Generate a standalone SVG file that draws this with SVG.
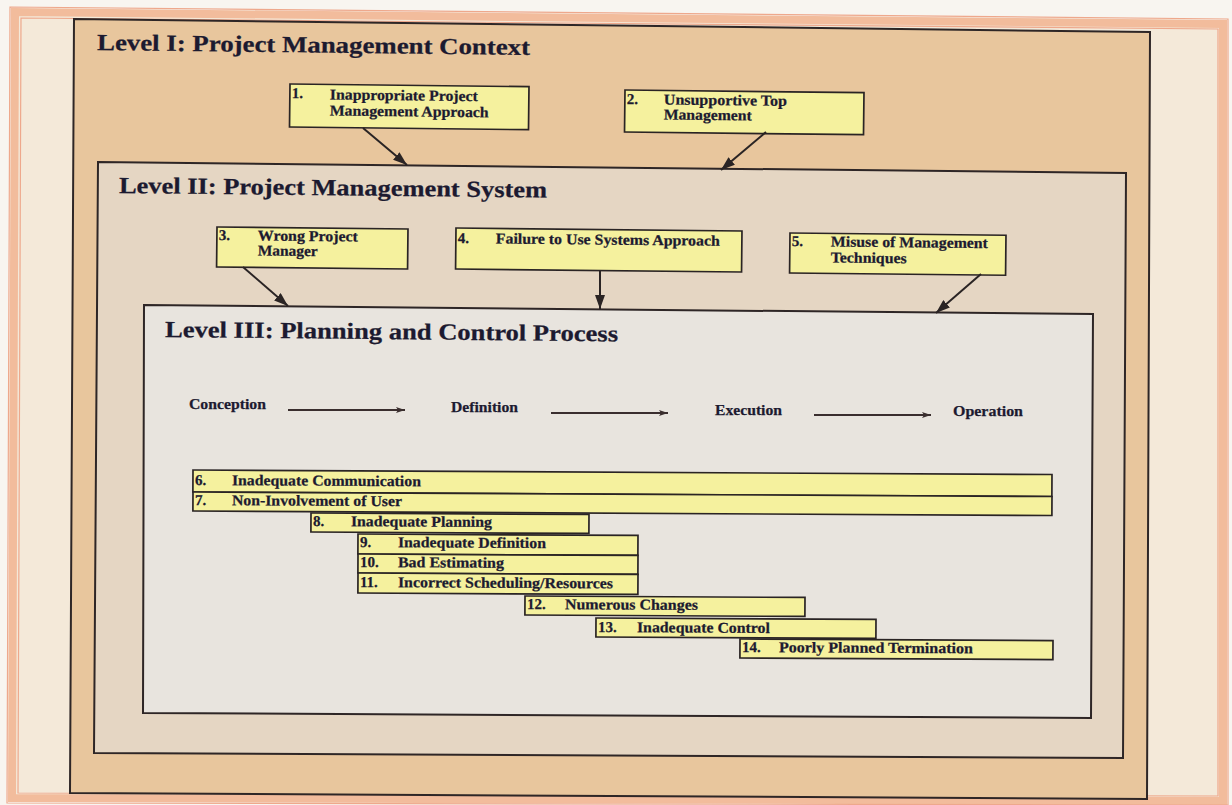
<svg xmlns="http://www.w3.org/2000/svg" width="1232" height="805" viewBox="0 0 1232 805">
<style>
.t{font-family:"Liberation Serif","Times New Roman",serif;font-weight:bold;fill:#1c1a30;stroke:#1c1a30;stroke-width:0.25}
.title{font-size:23px}
.lbl{font-size:15px}
.box{fill:#f5f19e;stroke:#2a2424;stroke-width:1.7}
.frame{stroke:#2e2626;stroke-width:2;stroke-linejoin:miter}
.conn{stroke:#2a2424;stroke-width:2;fill:none}
.pconn{stroke:#3a2e2e;stroke-width:1.8;fill:none}
</style>
<defs>
<marker id="head" viewBox="0 0 14 10" refX="14" refY="5" markerWidth="14" markerHeight="10" markerUnits="userSpaceOnUse" orient="auto">
<path d="M0,0 L14,5 L0,10 z" fill="#2a2424"/>
</marker>
<marker id="small" viewBox="0 0 9 6" refX="9" refY="3" markerWidth="9" markerHeight="6" markerUnits="userSpaceOnUse" orient="auto">
<path d="M0,0 L9,3 L0,6 L2,3 z" fill="#3a2e2e"/>
</marker>
</defs>
<rect x="0" y="0" width="1232" height="805" fill="#f8f5f0"/>
<g id="page">
<polygon points="15,12 1223,24 1223,801 12,798" fill="#f4e9d9" stroke="#f2bc9c" stroke-width="8"/>
<polygon points="10,7 1228,19 1228,805 7,803" fill="none" stroke="#eea88c" stroke-width="1.2"/>
<polygon points="21,18 1218,29 1218,796 18,793" fill="none" stroke="#eea88c" stroke-width="1.2"/>
</g>
<g id="level1">
<polygon class="frame" points="74,19 1150,32 1147,799 70,793" fill="#e8c69d"/>
<text class="t title" x="97" y="50" textLength="433" lengthAdjust="spacingAndGlyphs" transform="rotate(0.65 97 50)">Level I:  Project Management Context</text>
</g>
<g id="level2">
<polygon class="frame" points="98,162 1126,173 1123,758 94,753" fill="#e5d6c3"/>
<text class="t title" x="119" y="193" textLength="428" lengthAdjust="spacingAndGlyphs" transform="rotate(0.6 119 193)">Level II: Project Management System</text>
</g>
<g id="level3">
<polygon class="frame" points="144,305 1093,314 1091,718 143,713" fill="#e8e4de"/>
<text class="t title" x="165" y="337" textLength="453" lengthAdjust="spacingAndGlyphs" transform="rotate(0.55 165 337)">Level III: Planning and Control Process</text>
</g>
<g id="node1" transform="rotate(0.65 290 84)">
<rect class="box" x="290" y="84" width="239" height="43"/>
<text class="t lbl" x="292" y="98">1.</text>
<text class="t lbl" x="330" y="99" textLength="148" lengthAdjust="spacingAndGlyphs">Inappropriate Project</text>
<text class="t lbl" x="330" y="115" textLength="159" lengthAdjust="spacingAndGlyphs">Management Approach</text>
</g>
<g id="node2" transform="rotate(0.65 625 90)">
<rect class="box" x="625" y="90" width="239" height="42"/>
<text class="t lbl" x="627" y="104">2.</text>
<text class="t lbl" x="664" y="104" textLength="123" lengthAdjust="spacingAndGlyphs">Unsupportive Top</text>
<text class="t lbl" x="664" y="119" textLength="88" lengthAdjust="spacingAndGlyphs">Management</text>
</g>
<g id="node3" transform="rotate(0.6 217 227)">
<rect class="box" x="217" y="227" width="191" height="40"/>
<text class="t lbl" x="219" y="240">3.</text>
<text class="t lbl" x="258" y="240" textLength="100" lengthAdjust="spacingAndGlyphs">Wrong Project</text>
<text class="t lbl" x="258" y="255" textLength="60" lengthAdjust="spacingAndGlyphs">Manager</text>
</g>
<g id="node4" transform="rotate(0.6 456 228)">
<rect class="box" x="456" y="228" width="286" height="41"/>
<text class="t lbl" x="458" y="243">4.</text>
<text class="t lbl" x="496" y="243" textLength="224" lengthAdjust="spacingAndGlyphs">Failure to Use Systems Approach</text>
</g>
<g id="node5" transform="rotate(0.6 790 233)">
<rect class="box" x="790" y="233" width="216" height="40"/>
<text class="t lbl" x="792" y="246">5.</text>
<text class="t lbl" x="831" y="246" textLength="157" lengthAdjust="spacingAndGlyphs">Misuse of Management</text>
<text class="t lbl" x="831" y="262" textLength="76" lengthAdjust="spacingAndGlyphs">Techniques</text>
</g>
<g id="phases">
<text class="t lbl" x="189" y="409" textLength="77" lengthAdjust="spacingAndGlyphs">Conception</text>
<text class="t lbl" x="451" y="412" textLength="67" lengthAdjust="spacingAndGlyphs">Definition</text>
<text class="t lbl" x="715" y="415" textLength="67" lengthAdjust="spacingAndGlyphs">Execution</text>
<text class="t lbl" x="953" y="416" textLength="70" lengthAdjust="spacingAndGlyphs">Operation</text>
</g>
<g id="node6" transform="rotate(0.3 193 470)">
<rect class="box" x="193" y="470" width="859" height="22"/>
<text class="t lbl" x="195" y="485">6.</text>
<text class="t lbl" x="232" y="485" textLength="189" lengthAdjust="spacingAndGlyphs">Inadequate Communication</text>
</g>
<g id="node7" transform="rotate(0.3 193 492)">
<rect class="box" x="193" y="492" width="859" height="19"/>
<text class="t lbl" x="195" y="505">7.</text>
<text class="t lbl" x="232" y="505" textLength="170" lengthAdjust="spacingAndGlyphs">Non-Involvement of User</text>
</g>
<g id="node8" transform="rotate(0.3 311 513)">
<rect class="box" x="311" y="513" width="278" height="19"/>
<text class="t lbl" x="313" y="526">8.</text>
<text class="t lbl" x="351" y="526" textLength="141" lengthAdjust="spacingAndGlyphs">Inadequate Planning</text>
</g>
<g id="node9" transform="rotate(0.3 358 534)">
<rect class="box" x="358" y="534" width="280" height="20"/>
<text class="t lbl" x="360" y="547">9.</text>
<text class="t lbl" x="398" y="547" textLength="148" lengthAdjust="spacingAndGlyphs">Inadequate Definition</text>
</g>
<g id="node10" transform="rotate(0.3 358 554)">
<rect class="box" x="358" y="554" width="280" height="19"/>
<text class="t lbl" x="360" y="567">10.</text>
<text class="t lbl" x="398" y="567" textLength="106" lengthAdjust="spacingAndGlyphs">Bad Estimating</text>
</g>
<g id="node11" transform="rotate(0.3 358 573)">
<rect class="box" x="358" y="573" width="280" height="20"/>
<text class="t lbl" x="360" y="587">11.</text>
<text class="t lbl" x="398" y="587" textLength="215" lengthAdjust="spacingAndGlyphs">Incorrect Scheduling/Resources</text>
</g>
<g id="node12" transform="rotate(0.3 525 596)">
<rect class="box" x="525" y="596" width="280" height="19"/>
<text class="t lbl" x="527" y="609">12.</text>
<text class="t lbl" x="565" y="609" textLength="133" lengthAdjust="spacingAndGlyphs">Numerous Changes</text>
</g>
<g id="node13" transform="rotate(0.3 596 618)">
<rect class="box" x="596" y="618" width="280" height="19"/>
<text class="t lbl" x="598" y="632">13.</text>
<text class="t lbl" x="637" y="632" textLength="133" lengthAdjust="spacingAndGlyphs">Inadequate Control</text>
</g>
<g id="node14" transform="rotate(0.3 740 639)">
<rect class="box" x="740" y="639" width="313" height="19"/>
<text class="t lbl" x="742" y="652">14.</text>
<text class="t lbl" x="779" y="652" textLength="194" lengthAdjust="spacingAndGlyphs">Poorly Planned Termination</text>
</g>
<g id="connectors">
<line class="conn" x1="363" y1="128" x2="407" y2="165" marker-end="url(#head)"/>
<line class="conn" x1="766" y1="132" x2="721" y2="170" marker-end="url(#head)"/>
<line class="conn" x1="243" y1="267" x2="288" y2="306" marker-end="url(#head)"/>
<line class="conn" x1="600" y1="270" x2="600" y2="309" marker-end="url(#head)"/>
<line class="conn" x1="981" y1="274" x2="936" y2="313" marker-end="url(#head)"/>
<line class="pconn" x1="288" y1="410" x2="405" y2="410" marker-end="url(#small)"/>
<line class="pconn" x1="551" y1="413" x2="668" y2="413" marker-end="url(#small)"/>
<line class="pconn" x1="814" y1="415" x2="931" y2="415" marker-end="url(#small)"/>
</g>
</svg>
